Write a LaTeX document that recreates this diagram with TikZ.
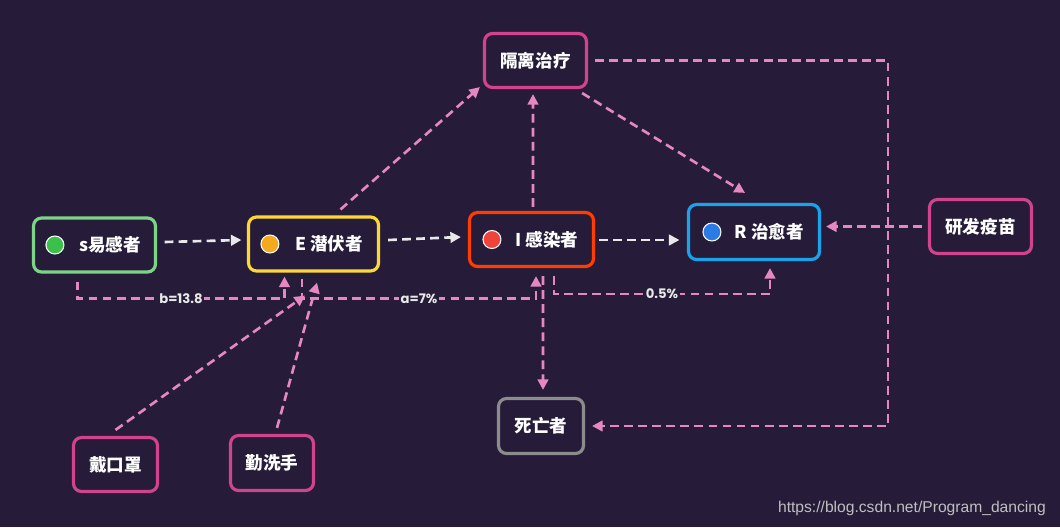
\documentclass[tikz,border=0pt]{standalone}
\usepackage{fontspec}
\setmainfont{Liberation Sans}
\newfontfamily\cjk{Noto Sans CJK SC}
\newfontfamily\lblfont{Poppins}
\usetikzlibrary{arrows.meta,calc}
\definecolor{night}{RGB}{38,28,58}
\definecolor{sgreen}{RGB}{125,212,135}
\definecolor{dgreen}{RGB}{59,193,74}
\definecolor{syellow}{RGB}{253,216,53}
\definecolor{dorange}{RGB}{246,168,31}
\definecolor{sred}{RGB}{255,61,0}
\definecolor{dred}{RGB}{240,67,58}
\definecolor{sblue}{RGB}{26,163,234}
\definecolor{dblue}{RGB}{43,123,229}
\definecolor{spink}{RGB}{209,67,142}
\definecolor{lpink}{RGB}{230,136,192}
\definecolor{sgray}{RGB}{140,140,140}
\definecolor{lwhite}{RGB}{232,232,232}
\tikzset{
  stage/.style={draw=#1,line width=1.8pt,rounded corners=1.6mm,minimum height=1.08cm,fill=night,text=white,font=\cjk\bfseries\fontsize{10}{12}\selectfont,inner sep=2pt},
  act/.style={stage=spink},
  dot/.style={circle,fill=#1,draw=white,line width=0.6pt,minimum size=0.36cm,inner sep=0pt},
  flow/.style={-{Triangle[length=6pt,width=6pt]},line width=1.5pt,draw=lwhite,dash pattern=on 5pt off 3pt},
  link/.style={flow,draw=lpink},
  rate/.style={fill=night,text=lwhite,font=\lblfont\bfseries\fontsize{7.5}{9}\selectfont,inner sep=1pt}
}
\begin{document}
\begin{tikzpicture}[x=0.02cm,y=-0.02cm]
\fill[night] (0,0) rectangle (1060,527);
\node[stage=sgreen,minimum width=2.44cm] (S) at (94.5,245) {\hspace*{0.62cm}s易感者};
\node[stage=syellow,minimum width=2.6cm] (E) at (313.5,244) {\hspace*{0.62cm}E 潜伏者};
\node[stage=sred,minimum width=2.48cm] (I) at (531.5,239.5) {\hspace*{0.62cm}I 感染者};
\node[stage=sblue,minimum width=2.62cm,minimum height=1.1cm] (R) at (754,232) {\hspace*{0.62cm}R 治愈者};
\node[dot=dgreen] (S-dot) at ($(S.west)+(23,0)$) {};
\node[dot=dorange] (E-dot) at ($(E.west)+(23,0)$) {};
\node[dot=dred] (I-dot) at ($(I.west)+(24,0)$) {};
\node[dot=dblue] (R-dot) at ($(R.west)+(25,0)$) {};
\node[act,minimum width=2.04cm] (Q) at (535.5,60.5) {隔离治疗};
\node[act,minimum width=2.04cm] (V) at (980.5,226.5) {研发疫苗};
\node[stage=sgray,minimum width=1.7cm,minimum height=1.1cm] (D) at (541,426) {死亡者};
\node[act,minimum width=1.68cm] (M) at (115.5,464.5) {戴口罩};
\node[act,minimum width=1.66cm,minimum height=1.1cm] (H) at (272,463) {勤洗手};
\node[anchor=east,text=black!25,font=\fontsize{8.9}{10}\selectfont] (url) at (1052,508) {https://blog.csdn.net/Program\_dancing};
\draw[flow] ($(S.east)+(7.5,-3)$) -- ($(E.west)+(-5.5,-4)$);
\draw[flow] ($(E.east)+(8,-4)$) -- ($(I.west)+(-7,-2.5)$);
\draw[flow] ($(I.east)+(4,0.5)$) -- ($(I.east -| R.west)+(-7.5,0.5)$);
\draw[link] ($(E.north)+(27,-6)$) -- ($(Q.south west)+(-3,-2)$);
\draw[link] ($(I.north)+(1.5,-4)$) -- ($(Q.south)+(-2.5,5)$);
\draw[link] ($(Q.south east)+(-6,4)$) -- ($(R.north)+(-9,-10)$);
\draw[link] ($(Q.east)+(7,0)$) -- ++(293,0) |- ($(D.east)+(7,0)$);
\draw[link] ($(V.west)+(-6,0)$) -- ($(R.east |- V.west)+(5,0)$);
\draw[link] ($(S.south)+(-17,8)$) -- ++(0,17) -| ($(E.south)+(-29,4)$) node[rate,pos=0.25] {b=13.8};
\draw[link] ($(E.south)+(-11.5,6)$) -- ++(0,20) -| ($(I.south)+(4.5,8)$) node[rate,pos=0.25] {a=7\%};
\draw[link] ($(I.south)+(22.5,8)$) -- ++(0,18) -| ($(R.south)+(16,7)$) node[rate,pos=0.25] {0.5\%};
\draw[link] ($(I.south)+(11.5,8)$) -- ($(D.north)+(2,-7)$);
\draw[link] ($(M.north)+(0,-6)$) -- ($(E.south)+(-8.5,23)$);
\draw[link] ($(H.north)+(5,-6)$) -- ($(E.south)+(3.5,10)$);
\end{tikzpicture}
\end{document}
